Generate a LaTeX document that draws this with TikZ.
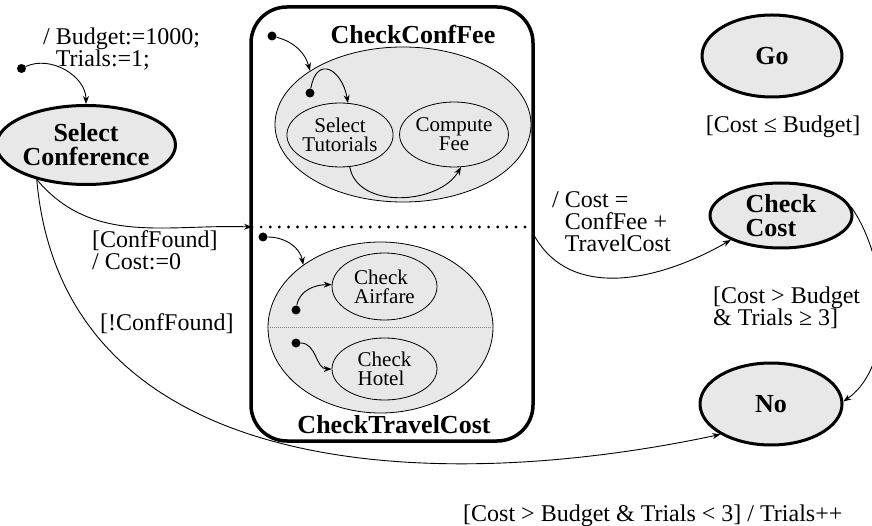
\documentclass[tikz,border=0pt]{standalone}
\usepackage{fontspec}
\setmainfont{Liberation Serif}
\usetikzlibrary{shapes.geometric,arrows.meta}
\begin{document}
\begin{tikzpicture}[x=1pt,y=-1pt,
  state/.style={ellipse,draw,line width=3pt,fill=black!9,inner sep=0pt,
    font=\fontsize{26}{24}\selectfont\bfseries},
  sub/.style={ellipse,draw,line width=0.8pt,fill=black!9,inner sep=0pt,
    font=\fontsize{21}{19}\selectfont},
  region/.style={ellipse,draw,line width=0.8pt,fill=black!9,inner sep=0pt},
  init/.style={circle,fill,inner sep=0pt,minimum size=9pt},
  tr/.style={line width=0.9pt,-{Stealth[length=8pt,width=6pt]}},
  lbl/.style={font=\fontsize{24}{22}\selectfont,align=left,inner sep=0pt},
  title/.style={font=\fontsize{26}{24}\selectfont\bfseries,inner sep=0pt},
  sepline/.style={line width=3.2pt,line cap=round,dash pattern=on 0pt off 9.1pt},
]
\useasboundingbox (0,0) rectangle (872,526);

% composite state with its two concurrent regions
\node[draw,line width=3.5pt,rounded corners=36pt,minimum width=282pt,
      minimum height=434pt] (box) at (392,224) {};
\node[region,minimum width=256pt,minimum height=155pt] (cfr) at (403,124.5) {};
\node[region,minimum width=225pt,minimum height=171pt] (tc) at (380.5,327.5) {};
\node[title] (t1) at (413,34) {CheckConfFee};
\node[title] (t2) at (394,425) {CheckTravelCost};

\coordinate (sepL) at (252,227);
\coordinate (sepR) at (533,227);
\draw[sepline] (sepL) -- (sepR);
\draw[gray,line width=0.7pt,dash pattern=on 1pt off 1pt] (tc.west) -- (tc.east);

% inner states
\node[sub,minimum width=96pt,minimum height=64pt,align=center] (st) at (340,135) {Select\\Tutorials};
\node[sub,minimum width=88pt,minimum height=65pt,align=center] (cfee) at (454,134.5) {Compute\\Fee};
\node[sub,minimum width=105pt,minimum height=67pt,align=left] (ca) at (384.5,286.5) {Check\\Airfare};
\node[sub,minimum width=105pt,minimum height=62pt,align=left] (ch) at (384.5,369) {Check\\Hotel};

% top-level states
\node[state,minimum width=152pt,minimum height=79pt,align=center] (sc) at (86,145) {Select\\Conference};
\node[state,minimum width=140pt,minimum height=82pt] (go) at (772,56) {Go};
\node[state,minimum width=142pt,minimum height=65pt,align=left] (cc) at (781,215.5) {Check\\Cost};
\node[state,minimum width=142pt,minimum height=82pt] (no) at (771,404) {No};

% initial pseudo-states
\node[init] (i0) at (21.5,68.5) {};
\node[init] (u0) at (272,36) {};
\node[init] (u1) at (310,93) {};
\node[init] (l0) at (263,237) {};
\node[init] (l1) at (296,310) {};
\node[init] (l2) at (296,343) {};

% transitions
\draw[tr] (i0) to[out=25,in=90] (sc.north);
\draw[tr] (u0) to[out=-15,in=105] (cfr.150);
\draw[tr] (u1) to[out=80,in=100,looseness=2.2] (st.76);
\draw[tr] (st.287) to[out=-80,in=-120] (cfee.282);
\draw[tr] (l0) to[out=0,in=100] (tc.141);
\draw[tr] (l1) to[out=80,in=180] (ca.178);
\draw[tr] (l2) to[out=0,in=180] (ch.west);
\draw[tr] (sc.215) to[out=-50,in=178] (sepL);
\draw[tr] (sc.215) to[out=-85,in=192,out distance=300pt,in distance=300pt] (no.211);
\draw[tr] (box.-5.3) to[out=-60,in=210] (cc.206);
\draw[tr] (cc.7) to[out=-55,in=35,looseness=0.85] (no.2);

% transition labels
\node[lbl,anchor=north west] (lbud) at (43,27.5) {/ Budget:=1000;\\\phantom{/ }Trials:=1;};
\node[lbl,anchor=north west] (lfound) at (92,230) {[ConfFound]\\/ Cost:=0};
\node[lbl,anchor=north west] (lnot) at (100,313) {[!ConfFound]};
\node[lbl,anchor=north west] (lcost) at (552,191) {/ Cost =\\\phantom{/ }ConfFee +\\\phantom{/ }TravelCost};
\node[lbl] (lgo) at (783,127) {[Cost ≤ Budget]};
\node[lbl,anchor=north west] (lno) at (713,287) {[Cost > Budget\\\& Trials ≥ 3]};
\node[lbl,anchor=north west] (lloop) at (463,505) {[Cost > Budget \& Trials < 3] / Trials++};
\end{tikzpicture}
\end{document}
